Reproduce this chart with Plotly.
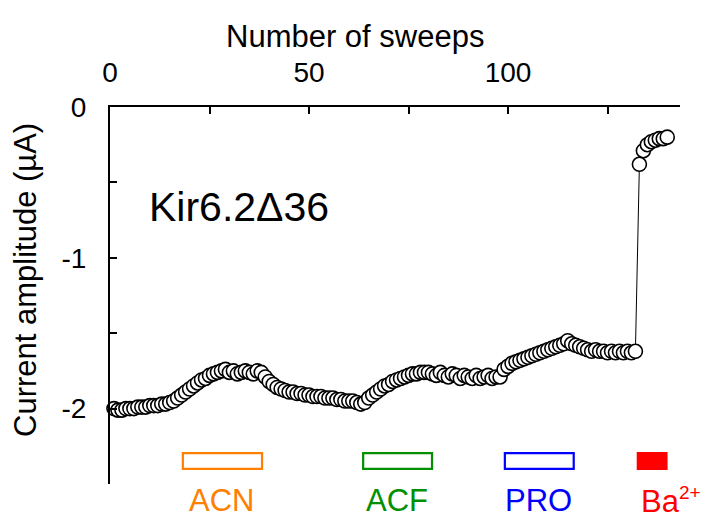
import plotly.graph_objects as go

# ---------------- data ----------------
sweeps = list(range(1, 141))
current = [
    -2.00, -2.01, -2.01, -2.00, -2.00, -2.00, -1.99, -1.99, -1.99, -1.98,
    -1.98, -1.98, -1.97, -1.97, -1.96, -1.95, -1.93, -1.91, -1.89, -1.87,
    -1.85, -1.83, -1.81, -1.80, -1.78, -1.77, -1.76, -1.75, -1.74, -1.76,
    -1.75, -1.77, -1.76, -1.75, -1.76, -1.77, -1.75, -1.76, -1.79, -1.82,
    -1.84, -1.86, -1.87, -1.88, -1.89, -1.89, -1.90, -1.90, -1.91, -1.91,
    -1.92, -1.92, -1.92, -1.93, -1.93, -1.93, -1.94, -1.94, -1.95, -1.95,
    -1.95, -1.96, -1.97, -1.96, -1.93, -1.91, -1.89, -1.87, -1.85, -1.84,
    -1.82, -1.81, -1.80, -1.79, -1.78, -1.77, -1.77, -1.76, -1.76, -1.76,
    -1.77, -1.78, -1.76, -1.78, -1.79, -1.77, -1.78, -1.80, -1.78, -1.79,
    -1.80, -1.78, -1.80, -1.79, -1.78, -1.80, -1.79, -1.79, -1.74, -1.72,
    -1.70, -1.69, -1.68, -1.67, -1.66, -1.65, -1.64, -1.63, -1.62, -1.61,
    -1.60, -1.59, -1.58, -1.57, -1.55, -1.57, -1.58, -1.59, -1.60, -1.61,
    -1.62, -1.61, -1.62, -1.62, -1.63, -1.62, -1.63, -1.62, -1.63, -1.62,
    -1.63, -1.62, -0.38, -0.29, -0.25, -0.23, -0.22, -0.21, -0.21, -0.20,
]

drug_names = ["ACN", "ACF", "PRO",
              "Ba<sup><span style='font-size:19px'>2+</span></sup>"]
drug_start = [18.3, 63.6, 99.2, 132.6]
drug_end = [38.2, 80.9, 116.5, 139.8]
drug_colors = ["#FF7F00", "#009000", "#0000FF", "#FF0000"]
drug_filled = [False, False, False, True]

x_tickvals = [0, 50, 100]
x_ticktext = ["0", "50", "100"]
x_minorvals = [25, 75, 125]
y_tickvals = [0, -1, -2]
y_ticktext = ["0", "-1", "-2"]
y_minorvals = [-0.5, -1.5, -2.5]

FONT = "Arial, Liberation Sans, sans-serif"

fig = go.Figure()
fig.add_trace(go.Scatter(
    x=sweeps, y=current, mode="lines+markers",
    line=dict(color="black", width=1),
    marker=dict(symbol="circle", size=14, color="white",
                line=dict(color="black", width=1.6)),
    showlegend=False, cliponaxis=False,
))

for i, (name, s, e, c, filled) in enumerate(zip(drug_names, drug_start, drug_end,
                                                 drug_colors, drug_filled)):
    fig.add_shape(type="rect", xref="x", yref="y", x0=s, x1=e, y0=-2.295, y1=-2.40,
                  line=dict(color=c, width=2.2),
                  fillcolor=c if filled else "rgba(0,0,0,0)")
    last = i == len(drug_names) - 1
    fig.add_annotation(x=s if last else (s + e) / 2, y=-0.045, xref="x", yref="paper",
                       text=name, xanchor="left" if last else "center",
                       xshift=1 if last else -1, yanchor="middle",
                       showarrow=False, font=dict(family=FONT, size=31, color=c))

fig.add_annotation(x=(239 - 110) / 570, y=(484 - 207) / 377, xref="paper", yref="paper",
                   text="Kir6.2Δ36", xanchor="center", yanchor="middle",
                   showarrow=False, font=dict(family=FONT, size=41, color="black"))
# axis titles
fig.add_annotation(x=(355 - 110) / 570, y=(484 - 36) / 377, xref="paper", yref="paper",
                   text="Number of sweeps", xanchor="center", yanchor="middle",
                   showarrow=False, font=dict(family=FONT, size=31, color="black"))
fig.add_annotation(x=0, y=(484 - 280) / 377, xref="paper", yref="paper",
                   xshift=-85, xanchor="center", yanchor="middle",
                   text="Current amplitude (µA)", textangle=-90,
                   showarrow=False, font=dict(family=FONT, size=31, color="black"))

tick_common = dict(ticks="inside", ticklen=7, tickwidth=2, tickcolor="black",
                   showline=True, linecolor="black", linewidth=2, showgrid=False,
                   zeroline=False, tickfont=dict(family=FONT, size=28))

fig.update_layout(
    width=707, height=518,
    margin=dict(l=110, r=27, t=107, b=34),
    paper_bgcolor="white", plot_bgcolor="white",
    font=dict(family=FONT, size=29, color="black"),
    xaxis=dict(side="top", range=[0, 143.2], tickvals=x_tickvals, ticktext=x_ticktext,
               ticklabelstandoff=12,
               minor=dict(tickvals=x_minorvals, ticks="inside", ticklen=7,
                          tickwidth=2, tickcolor="black", showgrid=False),
               **tick_common),
    yaxis=dict(range=[-2.5, 0], tickvals=y_tickvals, ticktext=y_ticktext,
               ticklabelstandoff=16,
               minor=dict(tickvals=y_minorvals, ticks="inside", ticklen=7,
                          tickwidth=2, tickcolor="black", showgrid=False),
               **tick_common),
)

fig.write_html("out.html")
